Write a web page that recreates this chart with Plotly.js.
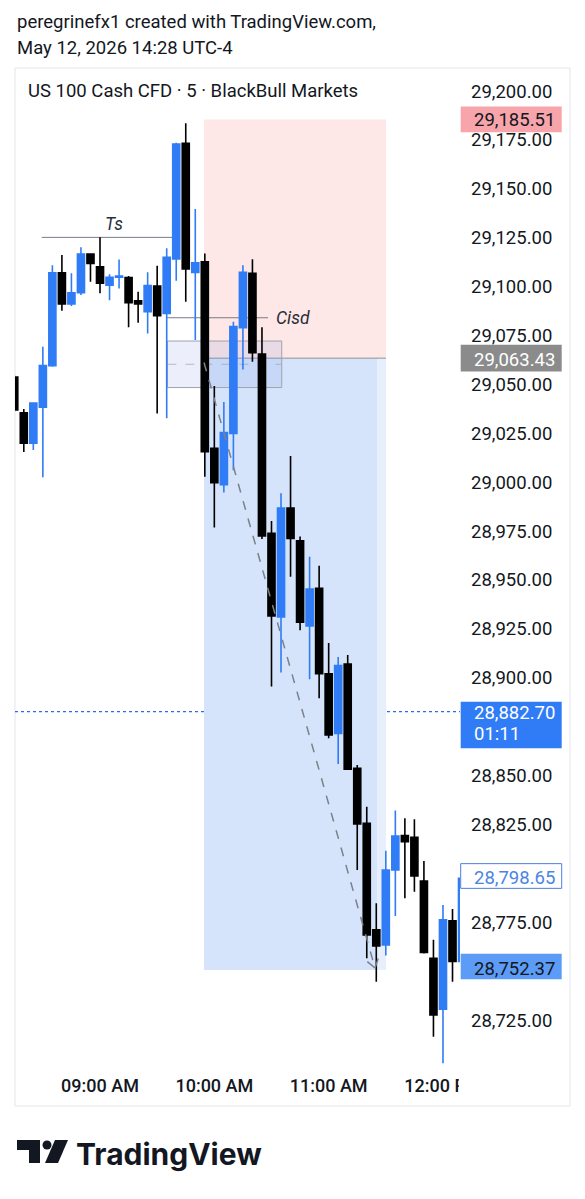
<!DOCTYPE html>
<html><head><meta charset="utf-8">
<script src="https://cdn.plot.ly/plotly-3.0.1.min.js"></script>
<style>html,body{margin:0;padding:0;background:#fff;overflow:hidden}#chart{width:585px;height:1199px}</style>
</head><body><div id="chart"></div>
<script>
// ---- data (5-minute candles, US 100 Cash CFD) ----
const times = [
 '2026-05-12 08:15','2026-05-12 08:20','2026-05-12 08:25','2026-05-12 08:30','2026-05-12 08:35','2026-05-12 08:40',
 '2026-05-12 08:45','2026-05-12 08:50','2026-05-12 08:55','2026-05-12 09:00','2026-05-12 09:05','2026-05-12 09:10',
 '2026-05-12 09:15','2026-05-12 09:20','2026-05-12 09:25','2026-05-12 09:30','2026-05-12 09:35','2026-05-12 09:40',
 '2026-05-12 09:45','2026-05-12 09:50','2026-05-12 09:55','2026-05-12 10:00','2026-05-12 10:05','2026-05-12 10:10',
 '2026-05-12 10:15','2026-05-12 10:20','2026-05-12 10:25','2026-05-12 10:30','2026-05-12 10:35','2026-05-12 10:40',
 '2026-05-12 10:45','2026-05-12 10:50','2026-05-12 10:55','2026-05-12 11:00','2026-05-12 11:05','2026-05-12 11:10',
 '2026-05-12 11:15','2026-05-12 11:20','2026-05-12 11:25','2026-05-12 11:30','2026-05-12 11:35','2026-05-12 11:40',
 '2026-05-12 11:45','2026-05-12 11:50','2026-05-12 11:55','2026-05-12 12:00','2026-05-12 12:05','2026-05-12 12:10'
];
const opens = [29053.8,29035.5,29020.0,29038.3,29059.6,29107.1,29091.1,29096.9,29116.7,29110.2,29100.8,29104.8,
 29104.6,29092.8,29087.2,29100.3,29086.3,29114.1,29173.3,29107.3,29112.7,29017.3,28998.7,29024.9,
 29079.0,29106.8,29065.5,28973.9,28931.1,28986.8,28970.0,28926.5,28945.8,28902.0,28871.6,28907.0,
 28853.7,28825.6,28771.1,28763.4,28801.7,28819.3,28818.5,28796.1,28756.6,28730.5,28775.7,28755.0];
const highs = [29054.8,29037.4,29040.6,29069.3,29111.0,29116.2,29106.8,29120.1,29117.0,29125.2,29106.4,29113.9,
 29105.4,29097.4,29107.3,29110.7,29119.6,29173.6,29183.5,29139.7,29117.0,29049.2,29041.0,29082.1,
 29111.0,29114.0,29079.3,28980.2,28994.3,29013.4,28972.3,28961.9,28957.3,28917.8,28910.6,28911.7,
 28855.4,28834.1,28784.7,28811.5,28832.2,28828.2,28827.7,28806.3,28766.0,28783.8,28781.8,28798.65];
const lows = [29035.9,29015.4,29016.5,29002.5,29059.0,29087.7,29090.1,29095.7,29102.5,29096.6,29093.1,29099.1,
 29079.2,29081.5,29076.1,29035.2,29032.7,29103.0,29092.3,29072.7,29002.8,28976.8,28994.8,29006.1,
 29057.7,29061.6,28971.0,28895.5,28902.7,28951.7,28924.3,28899.2,28889.5,28869.1,28855.9,28852.9,
 28801.7,28756.6,28744.6,28758.0,28778.2,28787.3,28790.6,28759.0,28716.5,28702.9,28744.6,28752.37];
const closes = [29036.9,29019.9,29040.5,29059.6,29107.1,29091.1,29096.9,29116.7,29111.9,29101.7,29104.8,29105.4,
 29091.8,29091.1,29100.5,29085.1,29115.0,29172.9,29109.0,29112.2,29015.6,28999.7,29025.4,29079.6,
 29107.3,29066.2,28972.5,28931.6,28986.8,28971.3,28928.4,28945.4,28902.1,28870.8,28906.3,28853.2,
 28825.3,28768.5,28762.9,28801.7,28819.1,28816.2,28798.7,28759.5,28727.6,28776.2,28754.9,28797.5];

// price-scale tick values shown (those hidden behind price labels are left out, as on the chart)
const priceTicks = [29200,29175,29150,29125,29100,29075,29050,29025,29000,28975,28950,28925,28900,28850,28825,28775,28725];
const timeTicks = ['2026-05-12 09:00','2026-05-12 10:00','2026-05-12 11:00','2026-05-12 12:00'];
const timeTickText = ['09:00 AM','10:00 AM','11:00 AM','12:00 PM'];

// drawings / price levels
const stopPrice = 29185.51, entryPrice = 29063.43, targetPrice = 28750.6;
const lastPrice = 28882.70, markA = 28798.65, markB = 28752.37;
const tsPrice = 29125.2, cisdPrice = 29084.1;
const fvgTop = 29072.2, fvgBottom = 29048.4, fvgMid = 29060.3;
const zoneStart = '2026-05-12 09:54:35', zoneFill = '2026-05-12 11:25:22', zoneEnd = '2026-05-12 11:30:06';
const tsStart = '2026-05-12 08:29:24', tsEnd = '2026-05-12 09:38:28';
const cisdStart = '2026-05-12 09:35:00', cisdEnd = '2026-05-12 10:28:10';
const fvgStart = '2026-05-12 09:35:20', fvgEnd = '2026-05-12 10:35:22';
const arrowStart = ['2026-05-12 09:54:35', 29061.2], arrowEnd = ['2026-05-12 11:24:20', 28751.6];

// ---- layout geometry ----
const W = 585, H = 1199;
const paneL = 15, paneR = 460, paneT = 68, paneB = 1066;
const xRange = ['2026-05-12 08:15:23', '2026-05-12 12:08:56'];
const yRange = [28701.5, 29211.8];
const px = x => x / W, py = y => 1 - y / H;
const ms = s => Date.parse(s.replace(' ', 'T') + 'Z');
const xPix = s => paneL + (ms(s) - ms(xRange[0])) / (ms(xRange[1]) - ms(xRange[0])) * (paneR - paneL);
const yPix = p => paneT + (yRange[1] - p) / (yRange[1] - yRange[0]) * (paneB - paneT);

const BLUE = '#2f7cf6', INK = '#131722', GREY = '#787b86';
const FS = 18.5;

const trace = {
  type: 'candlestick', x: times, open: opens, high: highs, low: lows, close: closes,
  increasing: {line: {color: BLUE, width: 1.6}, fillcolor: BLUE},
  decreasing: {line: {color: '#000000', width: 1.6}, fillcolor: '#000000'},
  whiskerwidth: 0, hoverinfo: 'skip', showlegend: false
};

// arrow head (open V) at the end of the dashed projection
const ax0 = xPix(arrowStart[0]), ay0 = yPix(arrowStart[1]);
const ax1 = xPix(arrowEnd[0]), ay1 = yPix(arrowEnd[1]);
const ang = Math.atan2(ay0 - ay1, ax0 - ax1), hl = 10, spread = 0.6;
const headA = [ax1 + hl * Math.cos(ang + spread), ay1 + hl * Math.sin(ang + spread)];
const headB = [ax1 + hl * Math.cos(ang - spread), ay1 + hl * Math.sin(ang - spread)];

function pline(x0, y0, x1, y1, color, width) {
  return {type: 'line', xref: 'paper', yref: 'paper', x0: px(x0), y0: py(y0), x1: px(x1), y1: py(y1),
    line: {color: color, width: width}, layer: 'above'};
}
function prect(x0, y0, x1, y1, fill, lineColor, layer) {
  return {type: 'rect', xref: 'paper', yref: 'paper', x0: px(x0), y0: py(y0), x1: px(x1), y1: py(y1),
    fillcolor: fill, line: {color: lineColor || 'rgba(0,0,0,0)', width: lineColor ? 1 : 0}, layer: layer || 'above'};
}
function labelBox(price, h, fill, border) {
  const c = yPix(price);
  return prect(460.7, c - h / 2, 561.7, c + h / 2, fill, border, 'above');
}

const shapes = [
  // frame
  prect(15, 68, 570, 1106, 'rgba(0,0,0,0)', '#e3e5ea', 'below'),
  // short position tool
  {type: 'rect', xref: 'x', yref: 'y', x0: zoneStart, x1: zoneEnd, y0: entryPrice, y1: stopPrice,
   fillcolor: '#fde7e7', line: {width: 0}, layer: 'below'},
  {type: 'rect', xref: 'x', yref: 'y', x0: zoneStart, x1: zoneFill, y0: targetPrice, y1: entryPrice,
   fillcolor: '#d5e4fb', line: {width: 0}, layer: 'below'},
  {type: 'rect', xref: 'x', yref: 'y', x0: zoneFill, x1: zoneEnd, y0: targetPrice, y1: entryPrice,
   fillcolor: '#e7effd', line: {width: 0}, layer: 'below'},
  {type: 'line', xref: 'x', yref: 'y', x0: zoneStart, x1: zoneEnd, y0: entryPrice, y1: entryPrice,
   line: {color: '#8d9099', width: 1}, layer: 'below'},
  // FVG box
  {type: 'rect', xref: 'x', yref: 'y', x0: fvgStart, x1: fvgEnd, y0: fvgBottom, y1: fvgTop,
   fillcolor: 'rgba(105,135,225,0.13)', line: {color: '#9fa3ac', width: 1}, layer: 'below'},
  {type: 'line', xref: 'x', yref: 'y', x0: fvgStart, x1: fvgEnd, y0: fvgMid, y1: fvgMid,
   line: {color: 'rgba(160,164,172,0.7)', width: 1, dash: 'dash'}, layer: 'below'},
  // Ts / Cisd lines
  {type: 'line', xref: 'x', yref: 'y', x0: tsStart, x1: tsEnd, y0: tsPrice, y1: tsPrice,
   line: {color: GREY, width: 1}, layer: 'below'},
  {type: 'line', xref: 'x', yref: 'y', x0: cisdStart, x1: cisdEnd, y0: cisdPrice, y1: cisdPrice,
   line: {color: GREY, width: 1}, layer: 'below'},
  // last price dotted line
  {type: 'line', xref: 'paper', yref: 'y', x0: px(paneL), x1: px(paneR), y0: lastPrice, y1: lastPrice,
   line: {color: '#2d6cf0', width: 1.2, dash: 'dot'}, layer: 'below'},
  // dashed projection arrow
  {type: 'line', xref: 'x', yref: 'y', x0: arrowStart[0], y0: arrowStart[1], x1: arrowEnd[0], y1: arrowEnd[1],
   line: {color: '#7d8089', width: 1.5, dash: 'dash'}, layer: 'above'},
  pline(headA[0], headA[1], ax1, ay1, '#7d8089', 1.5),
  pline(headB[0], headB[1], ax1, ay1, '#7d8089', 1.5),
  // price scale labels
  labelBox(stopPrice, 25.6, '#f7a4aa'),
  labelBox(entryPrice, 26.6, '#8b8b8b'),
  prect(460.7, 701.7, 561.7, 748.3, '#2f7cf6'),
  labelBox(markA, 24.7, '#ffffff', '#4a80dc'),
  labelBox(markB, 25.4, '#5c9cf6'),
  // clip the 12:00 label at the pane edge
  prect(458.8, 1070, 520, 1102, '#ffffff', null, 'above')
];

const lab = (text, y, color) => ({text: text, xref: 'paper', yref: 'paper', x: px(472), y: py(y), xanchor: 'left',
  yanchor: 'middle', showarrow: false, font: {family: 'Roboto', size: FS, color: color}});

const annotations = [
  {text: 'peregrinefx1 created with TradingView.com,', xref: 'paper', yref: 'paper', x: px(15), y: py(22),
   xanchor: 'left', yanchor: 'middle', showarrow: false, font: {family: 'Roboto', size: FS, color: INK}},
  {text: 'May 12, 2026 14:28 UTC-4', xref: 'paper', yref: 'paper', x: px(15), y: py(48),
   xanchor: 'left', yanchor: 'middle', showarrow: false, font: {family: 'Roboto', size: FS, color: INK}},
  {text: '<i>Ts</i>', xref: 'paper', yref: 'paper', x: px(114), y: py(224), xanchor: 'center', yanchor: 'middle',
   showarrow: false, font: {family: 'Roboto', size: 17.5, color: '#2a2e39'}},
  {text: '<i>Cisd</i>', xref: 'paper', yref: 'paper', x: px(274), y: py(318), xanchor: 'left', yanchor: 'middle',
   showarrow: false, font: {family: 'Roboto', size: 17.5, color: '#2a2e39'}},
  lab('29,185.51', 120, INK),
  lab('29,063.43', 359.5, '#ffffff'),
  lab('28,882.70', 713.3, '#ffffff'),
  lab('01:11', 734, '#ffffff'),
  lab('28,798.65', 877.7, '#4a85e2'),
  lab('28,752.37', 968.5, INK),
  {text: '<b>TradingView</b>', xref: 'paper', yref: 'paper', x: px(74), y: py(1154), xanchor: 'left', yanchor: 'middle',
   showarrow: false, font: {family: 'Inter', size: 30, color: '#131722'}}
];

// TradingView logo mark
const logo = [
  {type: 'path', xref: 'paper', yref: 'paper', fillcolor: '#131722', line: {width: 0}, layer: 'above',
   path: `M${px(17)},${py(1140)} L${px(40)},${py(1140)} L${px(40)},${py(1163)} L${px(29)},${py(1163)} L${px(29)},${py(1150)} L${px(17)},${py(1150)} Z`},
  {type: 'circle', xref: 'paper', yref: 'paper', x0: px(42.5), x1: px(51.5), y0: py(1149.5), y1: py(1140.5),
   fillcolor: '#131722', line: {width: 0}, layer: 'above'},
  {type: 'path', xref: 'paper', yref: 'paper', fillcolor: '#131722', line: {width: 0}, layer: 'above',
   path: `M${px(55)},${py(1140)} L${px(68)},${py(1140)} L${px(58)},${py(1163)} L${px(45)},${py(1163)} Z`}
];

const layout = {
  width: W, height: H, margin: {l: 0, r: 0, t: 0, b: 0, pad: 0},
  paper_bgcolor: '#ffffff', plot_bgcolor: 'rgba(0,0,0,0)', showlegend: false,
  boxgap: 0.26, boxgroupgap: 0,
  font: {family: 'Roboto, sans-serif', color: INK, size: FS},
  title: {text: 'US 100 Cash CFD · 5 · BlackBull Markets', x: px(28), xanchor: 'left', xref: 'container',
          y: py(91), yanchor: 'middle', yref: 'container', font: {family: 'Roboto', size: FS, color: INK}},
  xaxis: {type: 'date', domain: [px(paneL), px(paneR)], range: xRange, showgrid: false, zeroline: false,
          showline: false, ticks: '', tickmode: 'array', tickvals: timeTicks, ticktext: timeTickText,
          tickfont: {family: 'Roboto', size: 18, color: INK, weight: 500}, ticklabelstandoff: 7,
          rangeslider: {visible: false}, fixedrange: true, automargin: false},
  yaxis: {side: 'right', domain: [py(paneB), py(paneT)], range: yRange, tickmode: 'array', tickvals: priceTicks,
          tickformat: ',.2f', showgrid: false, zeroline: false, showline: false, ticks: '',
          tickfont: {family: 'Roboto', size: FS, color: INK}, ticklabelstandoff: 10, fixedrange: true, automargin: false},
  shapes: shapes.concat(logo),
  annotations: annotations
};

Plotly.newPlot('chart', [trace], layout, {staticPlot: true, displayModeBar: false});
</script>
</body></html>
